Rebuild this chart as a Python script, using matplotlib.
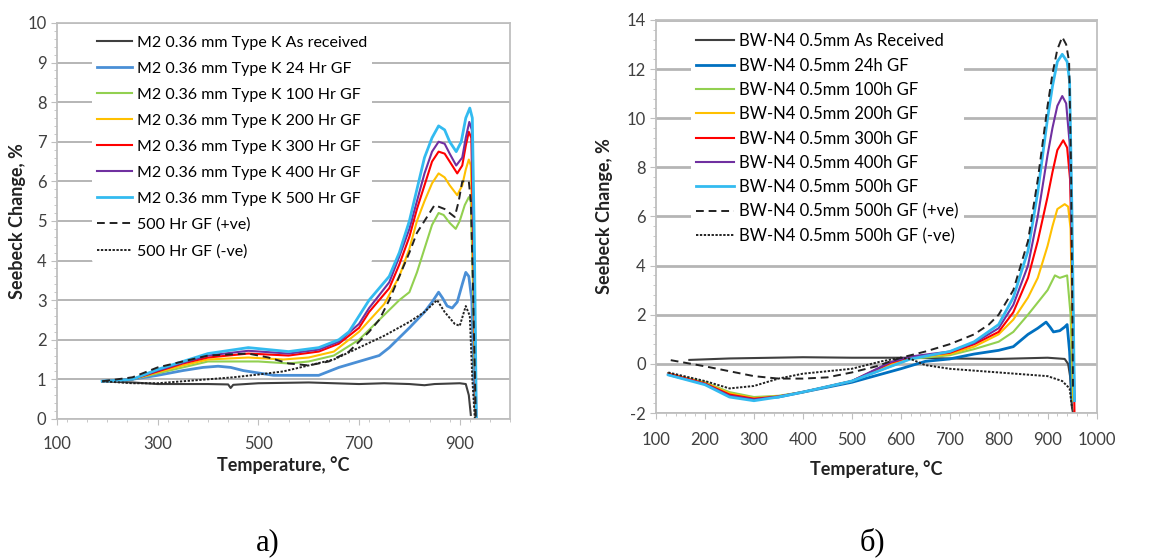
import matplotlib.pyplot as plt
from matplotlib.ticker import MultipleLocator

plt.rcParams['font.family'] = ['Lato', 'DejaVu Sans']
plt.rcParams['axes.unicode_minus'] = False

# ---- panel a) M2 0.36 mm Type K ----
a_labels = ["M2 0.36 mm Type K As received", "M2 0.36 mm Type K 24 Hr GF",
            "M2 0.36 mm Type K 100 Hr GF", "M2 0.36 mm Type K 200 Hr GF",
            "M2 0.36 mm Type K 300 Hr GF", "M2 0.36 mm Type K 400 Hr GF",
            "M2 0.36 mm Type K 500 Hr GF", "500 Hr GF (+ve)", "500 Hr GF (-ve)"]

a_as_x = [190, 250, 300, 400, 440, 445, 450, 500, 600, 650, 700, 750, 800, 830, 850, 900, 912, 918, 922]
a_as_y = [0.95, 0.92, 0.88, 0.88, 0.87, 0.78, 0.86, 0.9, 0.92, 0.9, 0.88, 0.9, 0.88, 0.85, 0.88, 0.9, 0.88, 0.6, 0.1]

a_24_x = [190, 250, 300, 350, 390, 420, 445, 470, 530, 620, 640, 660, 700, 740, 760, 780, 800, 830, 845, 858, 866, 875, 885, 895, 905, 912, 918, 924, 928, 932]
a_24_y = [0.95, 1.0, 1.1, 1.22, 1.3, 1.33, 1.3, 1.22, 1.1, 1.1, 1.2, 1.3, 1.45, 1.6, 1.8, 2.05, 2.3, 2.7, 2.95, 3.2, 3.05, 2.85, 2.8, 2.95, 3.4, 3.7, 3.6, 3.0, 1.0, 0.0]

a_100_x = [190, 250, 300, 350, 400, 500, 560, 600, 650, 700, 740, 780, 800, 815, 830, 845, 858, 868, 880, 892, 900, 910, 918, 922, 926, 932]
a_100_y = [0.95, 1.0, 1.15, 1.3, 1.45, 1.45, 1.4, 1.45, 1.6, 2.0, 2.5, 3.0, 3.2, 3.7, 4.3, 4.9, 5.2, 5.15, 4.95, 4.8, 5.0, 5.4, 5.6, 5.5, 3.5, 0.0]

a_200_x = [190, 250, 300, 350, 400, 480, 550, 600, 650, 700, 750, 780, 800, 815, 830, 845, 858, 870, 880, 895, 905, 912, 918, 922, 926, 932]
a_200_y = [0.95, 1.0, 1.18, 1.35, 1.5, 1.55, 1.5, 1.55, 1.7, 2.2, 2.9, 3.6, 4.3, 5.0, 5.5, 5.95, 6.2, 6.1, 5.9, 5.65, 5.9, 6.3, 6.55, 6.4, 4.5, 0.0]

a_300_x = [190, 250, 300, 350, 400, 480, 560, 620, 660, 700, 720, 760, 780, 800, 815, 830, 845, 858, 870, 880, 895, 905, 912, 918, 923, 927, 932]
a_300_y = [0.95, 1.0, 1.2, 1.4, 1.55, 1.65, 1.6, 1.7, 1.9, 2.3, 2.7, 3.3, 3.9, 4.6, 5.3, 5.9, 6.5, 6.75, 6.7, 6.5, 6.2, 6.4, 6.9, 7.25, 7.1, 4.5, 0.0]

a_400_x = [190, 250, 300, 350, 400, 480, 560, 620, 660, 700, 720, 760, 780, 800, 815, 830, 845, 858, 870, 880, 893, 905, 912, 919, 924, 928, 933]
a_400_y = [0.95, 1.0, 1.22, 1.42, 1.6, 1.72, 1.65, 1.75, 1.95, 2.4, 2.8, 3.45, 4.1, 4.8, 5.5, 6.2, 6.75, 7.0, 6.95, 6.7, 6.4, 6.6, 7.1, 7.5, 7.3, 4.5, 0.0]

a_500_x = [190, 250, 300, 350, 400, 480, 560, 620, 660, 680, 700, 720, 740, 760, 780, 800, 815, 830, 845, 858, 870, 880, 893, 903, 912, 920, 925, 929, 933]
a_500_y = [0.95, 1.0, 1.25, 1.45, 1.65, 1.8, 1.7, 1.8, 2.0, 2.2, 2.6, 3.0, 3.3, 3.6, 4.2, 5.0, 5.8, 6.6, 7.1, 7.4, 7.3, 7.0, 6.75, 7.0, 7.6, 7.85, 7.6, 4.5, 0.0]

a_pos_x = [190, 250, 300, 350, 400, 480, 520, 560, 600, 640, 680, 720, 740, 760, 780, 800, 815, 830, 850, 870, 890, 898, 905, 918, 922, 926, 932]
a_pos_y = [0.95, 1.05, 1.3, 1.45, 1.6, 1.65, 1.55, 1.4, 1.35, 1.45, 1.7, 2.2, 2.5, 3.0, 3.6, 4.2, 4.7, 5.0, 5.4, 5.3, 5.1, 5.5, 6.0, 6.0, 5.5, 3.5, 0.0]

a_neg_x = [190, 250, 300, 400, 450, 500, 550, 600, 650, 700, 750, 800, 830, 855, 870, 890, 900, 906, 912, 920, 925, 930]
a_neg_y = [0.95, 0.9, 0.9, 1.0, 1.05, 1.12, 1.2, 1.35, 1.5, 1.8, 2.1, 2.45, 2.7, 3.0, 2.7, 2.4, 2.35, 2.6, 2.85, 2.6, 1.0, 0.0]

# ---- panel б) BW-N4 0.5 mm ----
b_labels = ["BW-N4 0.5mm As Received", "BW-N4 0.5mm 24h GF", "BW-N4 0.5mm 100h GF",
            "BW-N4 0.5mm 200h GF", "BW-N4 0.5mm 300h GF", "BW-N4 0.5mm 400h GF",
            "BW-N4 0.5mm 500h GF", "BW-N4 0.5mm 500h GF (+ve)", "BW-N4 0.5mm 500h GF (-ve)"]

b_as_x = [168, 250, 400, 500, 600, 700, 800, 900, 935, 942, 946, 950, 952]
b_as_y = [0.16, 0.22, 0.27, 0.25, 0.25, 0.22, 0.2, 0.25, 0.2, 0.0, -0.5, -1.8, -2.0]

b_24_x = [125, 200, 250, 300, 350, 400, 500, 600, 650, 700, 750, 800, 830, 845, 860, 880, 897, 905, 912, 925, 935, 940, 945, 950]
b_24_y = [-0.4, -0.8, -1.2, -1.4, -1.35, -1.15, -0.75, -0.2, 0.1, 0.2, 0.4, 0.55, 0.7, 0.95, 1.2, 1.45, 1.7, 1.5, 1.3, 1.35, 1.5, 1.6, 0.5, -1.5]

b_100_x = [125, 200, 250, 300, 350, 400, 500, 580, 620, 700, 750, 800, 830, 860, 880, 900, 915, 925, 940, 947, 952]
b_100_y = [-0.4, -0.75, -1.15, -1.35, -1.3, -1.15, -0.7, -0.1, 0.2, 0.35, 0.6, 0.9, 1.3, 2.0, 2.5, 3.0, 3.6, 3.5, 3.6, 2.0, -1.5]

b_200_x = [125, 200, 250, 300, 350, 400, 500, 580, 620, 700, 750, 800, 830, 860, 880, 900, 910, 920, 935, 942, 947, 950, 953]
b_200_y = [-0.4, -0.78, -1.2, -1.4, -1.32, -1.15, -0.7, 0.0, 0.25, 0.4, 0.7, 1.2, 1.8, 2.7, 3.5, 4.8, 5.6, 6.3, 6.5, 6.4, 5.5, 2.0, -1.5]

b_300_x = [125, 200, 250, 300, 350, 400, 500, 580, 620, 700, 750, 800, 830, 860, 880, 900, 910, 920, 932, 940, 946, 950, 955]
b_300_y = [-0.4, -0.8, -1.25, -1.42, -1.33, -1.15, -0.7, 0.05, 0.28, 0.45, 0.8, 1.3, 2.1, 3.5, 5.0, 6.8, 7.8, 8.7, 9.1, 8.8, 7.5, 4.0, -2.0]

b_400_x = [125, 200, 250, 300, 350, 400, 500, 580, 620, 700, 750, 800, 830, 860, 880, 900, 910, 920, 930, 938, 945, 950, 955]
b_400_y = [-0.45, -0.82, -1.3, -1.45, -1.33, -1.15, -0.7, 0.08, 0.3, 0.5, 0.85, 1.45, 2.4, 4.0, 6.0, 8.5, 9.6, 10.5, 10.9, 10.6, 9.0, 5.0, -1.5]

b_500_x = [125, 200, 250, 300, 350, 400, 500, 580, 620, 700, 750, 800, 830, 860, 880, 900, 910, 920, 930, 940, 945, 950, 955]
b_500_y = [-0.45, -0.85, -1.35, -1.5, -1.35, -1.15, -0.7, -0.1, 0.2, 0.5, 0.9, 1.6, 2.7, 4.6, 7.0, 10.0, 11.3, 12.3, 12.6, 12.3, 11.5, 6.0, -1.5]

b_pos_x = [130, 200, 250, 300, 350, 400, 450, 500, 550, 600, 650, 700, 750, 780, 800, 830, 860, 880, 900, 910, 920, 930, 938, 944, 948, 952]
b_pos_y = [0.15, -0.1, -0.3, -0.5, -0.6, -0.6, -0.55, -0.35, -0.1, 0.25, 0.5, 0.8, 1.2, 1.6, 2.0, 3.0, 5.0, 7.5, 10.5, 11.8, 12.8, 13.3, 13.0, 12.3, 8.0, -1.0]

b_neg_x = [125, 200, 250, 300, 350, 400, 500, 560, 600, 620, 650, 700, 800, 900, 930, 945, 950]
b_neg_y = [-0.35, -0.7, -1.0, -0.9, -0.6, -0.4, -0.2, 0.1, 0.25, 0.2, -0.05, -0.2, -0.35, -0.5, -0.7, -1.0, -1.8]

a_colors = ['#3f3f3f', '#4a8fd6', '#92d050', '#ffc000', '#ff0000', '#7030a0', '#33bbf0', '#222222', '#222222']
b_colors = ['#3f3f3f', '#0070c0', '#92d050', '#ffc000', '#ff0000', '#7030a0', '#33bbf0', '#222222', '#222222']
widths = [1.5, 2.0, 1.5, 1.5, 1.5, 1.5, 2.0, 1.4, 1.4]
styles = ['-'] * 7 + [(0, (4, 2.5)), (0, (1.2, 0.8))]


def setup(ax, gridw, xpad, xl_y, yl_x):
    for s in ax.spines.values():
        s.set_color('#bfbfbf')
        s.set_linewidth(1.3)
    ax.grid(axis='y', color='#b5b5b5', linewidth=gridw)
    ax.set_axisbelow(True)
    ax.tick_params(which='both', direction='out', colors='#bfbfbf', labelcolor='#404040', labelsize=12)
    ax.tick_params(which='major', length=4)
    ax.tick_params(which='minor', length=2)
    ax.tick_params(axis='x', pad=xpad)
    ax.set_xlabel("Temperature, °C", fontsize=13, fontweight='bold', color='#222222')
    ax.set_ylabel("Seebeck Change, %", fontsize=13, fontweight='bold', color='#222222')
    ax.xaxis.set_label_coords(0.5, xl_y)
    ax.yaxis.set_label_coords(yl_x, 0.5)


fig = plt.figure(figsize=(11.53, 5.6), dpi=100)

ax1 = fig.add_axes([0.0494, 0.252, 0.393, 0.707])
a_data = [(a_as_x, a_as_y), (a_24_x, a_24_y), (a_100_x, a_100_y), (a_200_x, a_200_y),
          (a_300_x, a_300_y), (a_400_x, a_400_y), (a_500_x, a_500_y),
          (a_pos_x, a_pos_y), (a_neg_x, a_neg_y)]
for (x, y), lab, c, w, ls in zip(a_data, a_labels, a_colors, widths, styles):
    ax1.plot(x, y, color=c, lw=w, ls=ls, label=lab)
ax1.set_xlim(100, 1000)
ax1.set_ylim(0, 10)
ax1.set_xticks([100, 300, 500, 700, 900])
ax1.xaxis.set_minor_locator(MultipleLocator(40))
ax1.yaxis.set_major_locator(MultipleLocator(1))
ax1.yaxis.set_minor_locator(MultipleLocator(0.2))
setup(ax1, 1.4, 8, -0.095, -0.068)
ax1.legend(loc='upper left', bbox_to_anchor=(0.06, 1.0), fontsize=11.5, frameon=True,
           framealpha=1, edgecolor='none', handlelength=2.2, labelspacing=0.74,
           borderpad=0.3, handletextpad=0.3)

ax2 = fig.add_axes([0.569, 0.2625, 0.382, 0.702])
b_data = [(b_as_x, b_as_y), (b_24_x, b_24_y), (b_100_x, b_100_y), (b_200_x, b_200_y),
          (b_300_x, b_300_y), (b_400_x, b_400_y), (b_500_x, b_500_y),
          (b_pos_x, b_pos_y), (b_neg_x, b_neg_y)]
for (x, y), lab, c, w, ls in zip(b_data, b_labels, b_colors, widths, styles):
    ax2.plot(x, y, color=c, lw=w, ls=ls, label=lab)
ax2.set_xlim(100, 1000)
ax2.set_ylim(-2, 14)
ax2.xaxis.set_major_locator(MultipleLocator(100))
ax2.xaxis.set_minor_locator(MultipleLocator(20))
ax2.yaxis.set_major_locator(MultipleLocator(2))
ax2.yaxis.set_minor_locator(MultipleLocator(0.4))
setup(ax2, 2.0, 10, -0.12, -0.098)
ax2.legend(loc='upper left', bbox_to_anchor=(0.06, 1.0), fontsize=12, frameon=True,
           framealpha=1, edgecolor='none', handlelength=2.3, labelspacing=0.5,
           borderpad=0.3, handletextpad=0.3)

fig.text(0.232, 0.018, "а)", fontsize=22, family='Liberation Serif', ha='center')
fig.text(0.757, 0.018, "б)", fontsize=22, family='Liberation Serif', ha='center')

fig.savefig("out.png", dpi=100)
